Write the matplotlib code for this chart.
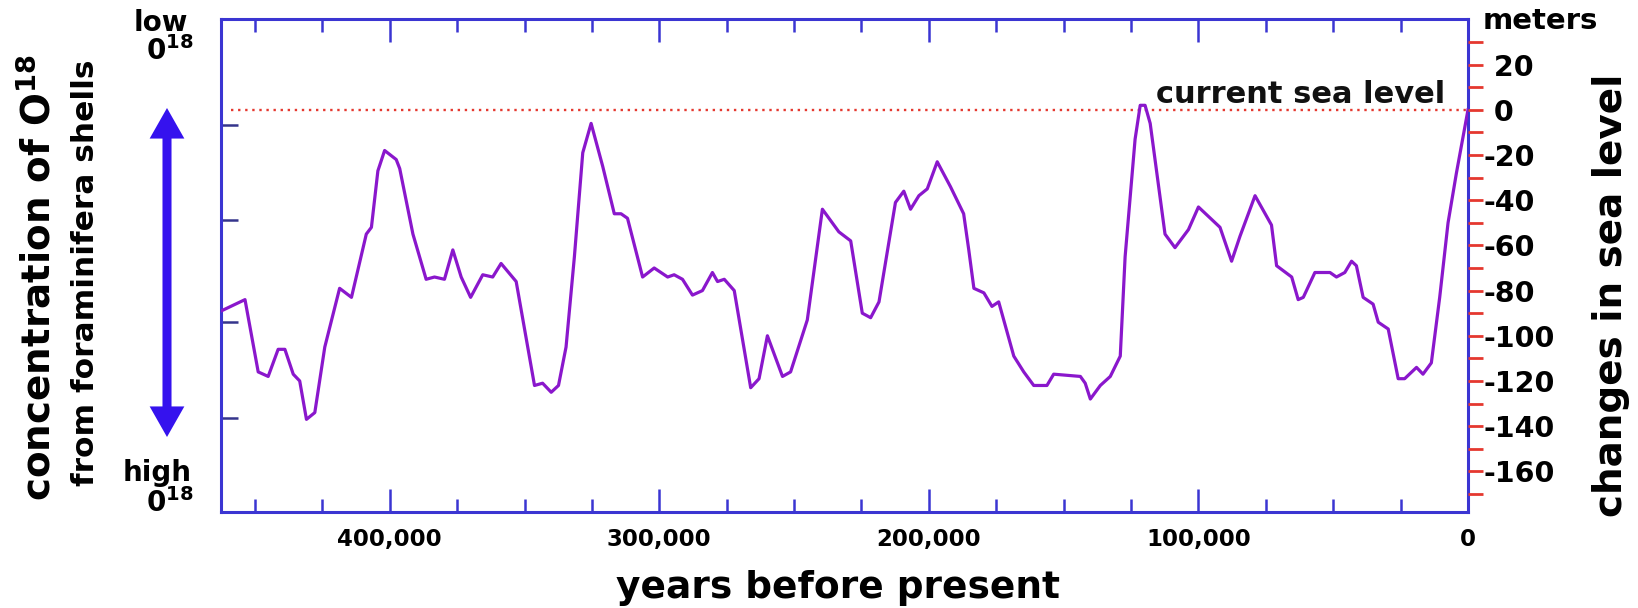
import matplotlib
matplotlib.use('Agg')
import matplotlib.pyplot as plt
from matplotlib.patches import FancyArrowPatch
from matplotlib.ticker import FixedLocator, MultipleLocator

plt.rcParams['font.family'] = ['DejaVu Sans']
plt.rcParams['font.weight'] = 'bold'
plt.rcParams['mathtext.default'] = 'bf'

# ---- data ----
years_bp = [462500, 453700, 448800, 445100, 441400, 438900, 435800, 433400, 430900, 427800,
            424100, 418600, 414200, 408700, 406800, 404400, 401900, 397600, 396300, 391400,
            386500, 383400, 379700, 376600, 373500, 370000, 365500, 361800, 358700, 353100,
            346300, 343300, 340100, 337400, 334600, 331500, 328400, 325300, 321000, 316700,
            314200, 311800, 306200, 301900, 296900, 294500, 291400, 287700, 284000, 280300,
            278400, 275900, 272200, 266100, 263000, 259900, 254300, 251300, 245100, 239500,
            233400, 229000, 224700, 221600, 218500, 212400, 209300, 206800, 203700, 200600,
            196900, 192000, 187100, 185200, 183300, 179600, 176600, 174100, 168500, 164800,
            161100, 156200, 153700, 143800, 142000, 140100, 136400, 132700, 129000, 127200,
            123500, 121600, 119800, 117900, 112400, 108700, 103700, 100000, 92000, 87700,
            84600, 79000, 72900, 71000, 65400, 63000, 61100, 56800, 51200, 48800,
            45700, 43200, 41400, 38900, 35200, 33300, 29600, 25900, 23500, 19100,
            16700, 13600, 10500, 7400, 4300, 0]
sea_level_m = [-89, -84, -116, -118, -106, -106, -117, -120, -137, -134,
               -105, -79, -83, -55, -52, -27, -18, -22, -26, -55,
               -75, -74, -75, -62, -74, -83, -73, -74, -68, -76,
               -122, -121, -125, -122, -105, -65, -19, -6, -25, -46,
               -46, -48, -74, -70, -74, -73, -75, -82, -80, -72,
               -76, -75, -80, -123, -119, -100, -118, -116, -93, -44,
               -54, -58, -90, -92, -85, -41, -36, -44, -38, -35,
               -23, -34, -46, -62, -79, -81, -87, -85, -109, -116,
               -122, -122, -117, -118, -121, -128, -122, -118, -109, -65,
               -13, 2, 2, -6, -55, -61, -53, -43, -52, -67,
               -56, -38, -51, -69, -74, -84, -83, -72, -72, -74,
               -72, -67, -69, -83, -86, -94, -97, -119, -119, -114,
               -117, -112, -83, -50, -28, 0]

x_major_ticks = [400000, 300000, 200000, 100000, 0]
x_tick_labels = ['400,000', '300,000', '200,000', '100,000', '0']
sea_ticks = [-160, -140, -120, -100, -80, -60, -40, -20, 0, 20]
sea_tick_labels = ['-160', '-140', '-120', '-100', '-80', '-60', '-40', '-20',
                   '\u20080', '\u200820']
sea_minor_ticks = list(range(-170, 31, 10))
o18_ticks = [-6.6, -48.6, -93.9, -136.2]
current_sea_level = 0

# ---- styling ----
W, H = 1638, 608
BLUE = '#3b35d2'
CURVE = '#8a17cc'
RED = '#e5382f'
ARROW = '#3512ee'

fig = plt.figure(figsize=(W / 100, H / 100), dpi=100)
ax = fig.add_axes([221 / W, 1 - 512 / H, (1468 - 221) / W, (512 - 19) / H])

ax.plot(years_bp, sea_level_m, color=CURVE, lw=2.3, solid_joinstyle='round', zorder=3)
ax.hlines(current_sea_level, 459000, 0, colors=RED, linestyles=(0, (1, 2)), lw=1.7, zorder=2)
ax.set_xlim(462600, 0)
ax.set_ylim(-178, 40.2)

for sp in ax.spines.values():
    sp.set_color(BLUE)
    sp.set_linewidth(2.2)

ax.xaxis.set_major_locator(FixedLocator(x_major_ticks))
ax.xaxis.set_minor_locator(MultipleLocator(25000))
ax.set_xticklabels(x_tick_labels)
ax.tick_params(axis='x', which='both', direction='in', top=True, bottom=True,
               color=BLUE, width=1.8)
ax.tick_params(axis='x', which='major', length=16.5, pad=11.5, labelsize=16.5)
ax.tick_params(axis='x', which='minor', length=9.5)

ax.yaxis.set_major_locator(FixedLocator(o18_ticks))
ax.tick_params(axis='y', which='major', direction='in', length=12.5, width=1.8,
               color='#35358c', labelleft=False, right=False)

ax2 = ax.twinx()
ax2.set_ylim(ax.get_ylim())
for sp in ax2.spines.values():
    sp.set_visible(False)
ax2.yaxis.set_major_locator(FixedLocator(sea_ticks))
ax2.set_yticklabels(sea_tick_labels)
ax2.yaxis.set_minor_locator(FixedLocator(sea_minor_ticks))
ax2.tick_params(axis='y', which='both', direction='out', length=10.5, width=2.0, color=RED)
ax2.tick_params(axis='y', which='major', labelsize=20.5, pad=0.5, labelcolor='black')

ax.text(8500, 3.1, 'current sea level', ha='right', va='baseline', fontsize=22,
        fontweight='bold', color='#111111', zorder=4)

# ---- surrounding labels ----
fig.text(161 / W, 1 - 23 / H, 'low', ha='center', va='center', fontsize=20)
fig.text(170 / W, 1 - 51 / H, r'0$^{18}$', ha='center', va='center', fontsize=20)
fig.text(157 / W, 1 - 473 / H, 'high', ha='center', va='center', fontsize=20)
fig.text(170 / W, 1 - 503 / H, r'0$^{18}$', ha='center', va='center', fontsize=20)
fig.text(39 / W, 1 - 277 / H, r'concentration of O$^{18}$', rotation=90,
         ha='center', va='center', fontsize=28)
fig.text(86 / W, 1 - 273 / H, 'from foraminifera shells', rotation=90,
         ha='center', va='center', fontsize=22.5)
fig.text(1611 / W, 1 - 295 / H, 'changes in sea level', rotation=90,
         ha='center', va='center', fontsize=28)
fig.text(1483 / W, 1 - 21 / H, 'meters', ha='left', va='center', fontsize=21)
fig.text(838 / W, 1 - 588 / H, 'years before present', ha='center', va='center', fontsize=27)

# double-headed arrow (two simple arrows from the middle)
ax_x = 167 / W
mid_y = 1 - 272 / H
style = 'Simple, head_length=22, head_width=25, tail_width=6.5'
for tip in (1 - 108 / H, 1 - 437 / H):
    arr = FancyArrowPatch((ax_x, mid_y), (ax_x, tip), transform=fig.transFigure,
                          arrowstyle=style, mutation_scale=1, color=ARROW, lw=0,
                          shrinkA=0, shrinkB=0)
    fig.add_artist(arr)

fig.savefig('out.png', dpi=100, facecolor='white')
